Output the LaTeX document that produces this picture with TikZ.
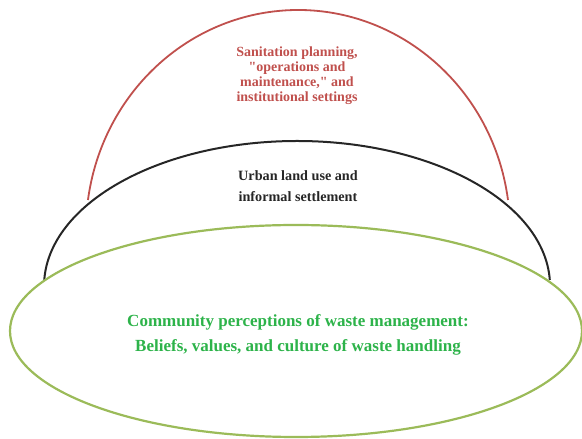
\documentclass[tikz,border=0pt]{standalone}
\usepackage{fontspec}
\setmainfont{Liberation Serif}
\definecolor{arcred}{HTML}{C0504D}
\definecolor{rimgreen}{HTML}{9BBB59}
\definecolor{textgreen}{HTML}{2DB34A}
\definecolor{textgray}{HTML}{262626}

\begin{document}
\begin{tikzpicture}[x=1pt,y=1pt,
  layer text/.style={align=center, inner sep=0pt}]
\useasboundingbox (0,0) rectangle (582,439);
\draw[arcred, line width=1.8pt] (508,239) arc (7.84:172.16:212pt and 220pt);
\draw[textgray, line width=2pt] (549.8,159) arc (2.37:177.63:253pt and 145pt);
\draw[rimgreen, line width=2.2pt] (296,108) ellipse (286pt and 106pt);
\node[layer text, text=arcred, font=\fontsize{14}{15}\selectfont\bfseries] (planning) at (297,363)
  {Sanitation planning,\\\textquotedbl operations and\\maintenance,\textquotedbl{} and\\institutional settings};
\node[layer text, text=textgray, font=\fontsize{14.2}{21}\selectfont\bfseries] (landuse) at (298,253)
  {Urban land use and\\informal settlement};
\node[layer text, text=textgreen, font=\fontsize{17}{25}\selectfont\bfseries] (community) at (298,104)
  {Community perceptions of waste management:\\Beliefs, values, and culture of waste handling};
\end{tikzpicture}
\end{document}
